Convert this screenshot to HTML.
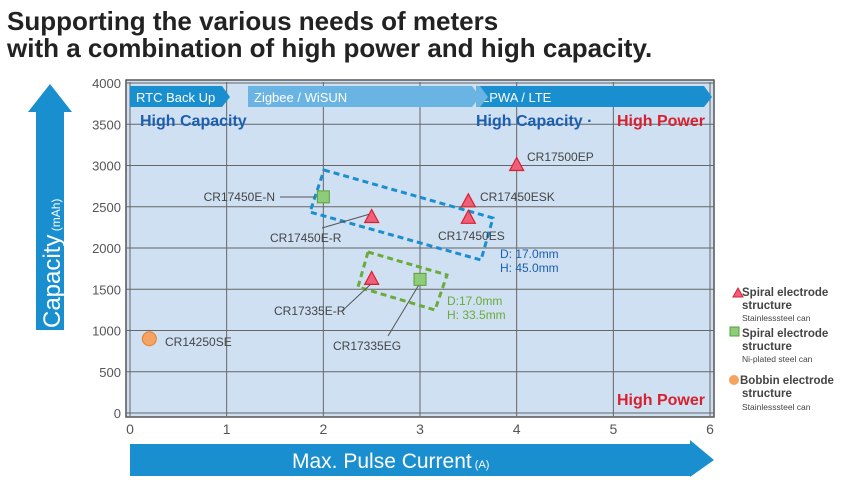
<!DOCTYPE html>
<html><head><meta charset="utf-8">
<style>
body{margin:0;width:853px;height:480px;background:#fff;overflow:hidden;font-family:"Liberation Sans",sans-serif;}
.t{position:absolute;left:7px;font-weight:bold;font-size:26px;color:#222;letter-spacing:0;line-height:27px;}
</style></head><body>
<div class="t" style="top:8px">Supporting the various needs of meters<br>with a combination of high power and high capacity.</div>
<svg id="c" width="853" height="480" style="position:absolute;left:0;top:0"></svg>
<script>
const xTicks=[0,1,2,3,4,5,6];
const yTicks=[0,500,1000,1500,2000,2500,3000,3500,4000];
const names=["CR17500EP","CR17450ESK","CR17450ES","CR17450E-R","CR17450E-N","CR17335E-R","CR17335EG","CR14250SE"];
const currents=[4,3.5,3.5,2.5,2,2.5,3,0.2];
const capacities=[3000,2560,2360,2370,2620,1620,1620,900];
const kinds=["tri","tri","tri","tri","sq","tri","sq","circ"];
const svg=document.getElementById('c');const NS='http://www.w3.org/2000/svg';
const X=v=>130+v*96.67, Y=v=>413-v*0.0825;
function el(t,a,p){const e=document.createElementNS(NS,t);for(const k in a)e.setAttribute(k,a[k]);(p||svg).appendChild(e);return e;}
function tx(s,x,y,o){const e=el('text',Object.assign({x:x,y:y,'font-family':'Liberation Sans, sans-serif','font-size':12,fill:'#444'},o||{}));e.textContent=s;return e;}
let bg=el('rect',{x:126,y:80,width:588,height:337,fill:'#cfe0f2',stroke:'#555','stroke-width':1.5});


xTicks.forEach(v=>{el('line',{x1:X(v),x2:X(v),y1:82,y2:416,stroke:'#666','stroke-width':1});
 let t=tx(String(v),X(v),434,{'text-anchor':'middle','font-size':14,fill:'#555'});
 
 });
yTicks.forEach(v=>{el('line',{x1:126,x2:714,y1:Y(v),y2:Y(v),stroke:'#666','stroke-width':1});
 let t=tx(String(v),121,Y(v)+5,{'text-anchor':'end','font-size':13,fill:'#555'});
 
 });
function band(x1,x2,c,label,name){let p=el('polygon',{points:`${x1},86 ${x2-8},86 ${x2},97 ${x2-8},107 ${x1},107`,fill:c});
 
 
 tx(label,x1+6,102,{fill:'#fff','font-size':13});}
band(130,230,'#1a8fd0','RTC Back Up','band-rtc');
band(248,480,'#6ab4e3','Zigbee / WiSUN','band-zigbee');
band(476,712,'#1a8fd0','LPWA / LTE','band-lpwa');
el('polygon',{points:'476,86 480,86 488,97 480,107 476,107',fill:'#6ab4e3'});
tx('High Capacity',140,126,{fill:'#1b5fae','font-size':16,'font-weight':'bold'});
tx('High Capacity · ',476,126,{fill:'#1b5fae','font-size':16,'font-weight':'bold'});
tx('High Power',705,126,{fill:'#d9202e','font-size':16,'font-weight':'bold','text-anchor':'end'});
tx('High Power',705,405,{fill:'#d9202e','font-size':16,'font-weight':'bold','text-anchor':'end'});
let b1=el('polygon',{points:'324,170 493,218 481,260 310,212',fill:'none',stroke:'#1a8fd0','stroke-width':3,'stroke-dasharray':'6,4'});


let b2=el('polygon',{points:'368,252 447,275 435,310 358,287',fill:'none',stroke:'#6aab3a','stroke-width':3,'stroke-dasharray':'6,4'});


tx('D: 17.0mm',500,258,{fill:'#1b5fae','font-size':12});tx('H: 45.0mm',500,272,{fill:'#1b5fae','font-size':12});
tx('D:17.0mm',447,305,{fill:'#6aab3a','font-size':12});tx('H: 33.5mm',447,319,{fill:'#6aab3a','font-size':12});
const lab=[[527,161,'start'],[480,201,'start'],[438,240,'start'],[270,242,'start'],[275,201,'end'],[274,315,'start'],[333,350,'start'],[165,346,'start']];
el('line',{x1:280,y1:197,x2:315,y2:197,stroke:'#555'});
el('line',{x1:322,y1:228,x2:370,y2:214,stroke:'#555'});
el('line',{x1:342,y1:311,x2:372,y2:283,stroke:'#555'});
el('line',{x1:388,y1:336,x2:420,y2:283,stroke:'#555'});
names.forEach((n,i)=>{const x=X(currents[i]),y=Y(capacities[i]);let m;
 if(kinds[i]=='tri')m=el('polygon',{points:`${x},${y-8} ${x+7},${y+5} ${x-7},${y+5}`,fill:'#ee5f7a',stroke:'#d9202e','stroke-width':1.2});
 else if(kinds[i]=='sq')m=el('rect',{x:x-6,y:y-6,width:12,height:12,fill:'#8fcc7a',stroke:'#5a9e3a','stroke-width':1});
 else m=el('circle',{cx:x,cy:y,r:7,fill:'#f4a460',stroke:'#e08030','stroke-width':1});
 
 
 const t=tx(n,lab[i][0],lab[i][1],{'text-anchor':lab[i][2],'font-size':12});
 
 });
let ya=el('polygon',{points:'36,330 36,112 28,112 50,84 72,112 64,112 64,330',fill:'#1a8fd0'});


let yt=tx('',0,0,{fill:'#fff','font-size':24,transform:'translate(60,328) rotate(-90)'});
yt.innerHTML='Capacity<tspan font-size="12"> (mAh)</tspan>';


let xa=el('polygon',{points:'130,444 690,444 690,440 714,460 690,477 690,476 130,476',fill:'#1a8fd0'});


let xt=tx('',292,468,{fill:'#fff','font-size':21});
xt.innerHTML='Max. Pulse Current<tspan font-size="11"> (A)</tspan>';


el('polygon',{points:'733,297 738,288 743,297',fill:'#ee5f7a',stroke:'#d9202e'});
tx('Spiral electrode',742,296,{'font-size':11.5,fill:'#444','font-weight':'bold'});tx('structure',742,309,{'font-size':11.5,fill:'#444','font-weight':'bold'});tx('Stainlesssteel can',742,321,{'font-size':8.5,fill:'#444'});
el('rect',{x:730,y:327,width:9,height:9,fill:'#8fcc7a',stroke:'#5a9e3a'});
tx('Spiral electrode',742,337,{'font-size':11.5,fill:'#444','font-weight':'bold'});tx('structure',742,350,{'font-size':11.5,fill:'#444','font-weight':'bold'});tx('Ni-plated steel can',742,362,{'font-size':8.5,fill:'#444'});
el('circle',{cx:734,cy:380,r:5,fill:'#f4a460'});
tx('Bobbin electrode',740,384,{'font-size':11.5,fill:'#444','font-weight':'bold'});tx('structure',742,397,{'font-size':11.5,fill:'#444','font-weight':'bold'});tx('Stainlesssteel can',742,410,{'font-size':8.5,fill:'#444'});
</script>
</body></html>
